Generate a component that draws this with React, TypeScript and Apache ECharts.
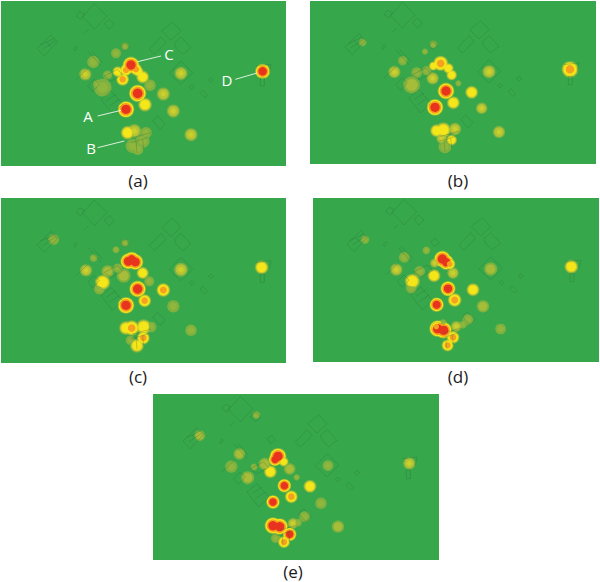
import React, { useEffect, useRef } from "react";
import * as echarts from "echarts";

// Blobs: [x, y, radius, heat level] in units of 1/3 px, local to each panel.
const blobsA = [
  [253,220,16,2],[277,183,16,1],[345,157,13,1],[372,136,10,1],[320,222,12,1],[305,260,23,1],[290,250,12,1],[447,253,15,1],
  [487,279,17,2],[517,330,17,2],[570,401,17,2],[540,217,17,2],
  [350,212,14,3],[412,212,14,3],[425,228,17,3],[365,235,17,4],[375,207,16,4],[405,205,16,4],[390,192,22,5],
  [375,325,22,5],[410,277,23,5],[432,311,18,3],[785,211,20,5],
  [380,395,18,3],[400,390,18,2],[435,395,15,1],[395,435,18,1],[425,420,18,1],[410,445,15,1],
];
const blobsB = [
  [375,319,22,5],[408,270,22,5],[430,305,17,3],[485,274,17,3],[515,322,15,2],[567,393,16,2],[537,212,17,2],[780,205,22,4],
  [253,213,16,2],[278,179,12,1],[370,130,10,1],[345,152,8,1],[158,124,10,1],[305,252,22,1.5],[368,232,16,2],[320,215,14,1],[350,209,12,1],[445,247,8,1],
  [392,187,20,4],[370,195,12,3],[415,202,14,3],[425,222,14,3],
  [380,389,17,3],[400,387,20,3],[435,384,16,2],[425,417,14,3],[405,437,17,1],[395,412,14,2],
];
const blobsC = [
  [375,322,22,5],[410,273,22,5],[431,308,17,4],[487,276,18,4],[517,325,16,1],[570,397,15,1],[540,215,18,2],[782,208,18,3],
  [255,217,16,2],[278,180,10,1],[345,155,9,1],[372,135,10,1],[158,125,14,1],[320,220,16,1.5],[305,253,20,3],[295,273,14,1],[368,233,18,1.5],[445,250,13,1],
  [382,190,21,5],[403,192,21,5],[392,184,20,5],[425,225,16,3],[350,210,12,1],
  [392,390,20,4],[375,390,18,3],[428,387,20,3],[450,387,14,1],[427,420,17,4],[408,443,18,3],[388,427,12,1],
];
const blobsD = [
  [371,320,19,5],[405,272,20,5],[425,306,18,4],[480,275,17,3],[510,325,16,1.5],[563,393,14,1],[533,213,17,1.5],[775,206,18,3],
  [250,215,16,2],[274,178,14,1],[340,157,10,1],[156,125,11,1],[298,250,20,3],[295,270,14,1],[363,233,17,3],[320,220,14,1],[420,225,15,2],[465,365,14,1],
  [388,183,22,5],[400,193,20,5],[410,198,15,4],[365,195,12,2],
  [374,392,22,5],[392,397,22,5],[370,386,14,4],[420,418,17,4],[404,442,16,4],[390,375,10,1],[430,385,14,2],[450,380,10,1],
];
const blobsE = [
  [360,324,18,5],[394,275,18,5],[415,308,17,4],[471,277,17,3],[504,328,15,1],[555,398,16,1.5],[525,215,14,1],[769,208,16,2],
  [284,251,17,1.5],[259,180,15,1.5],[235,218,16,1],[140,125,14,1.5],[310,63,10,1],[303,219,9,1],[431,250,8,1],[455,368,14,1],
  [410,225,15,1.5],[352,233,17,3],[335,210,16,1.5],[375,187,22,5],[366,197,17,5],[392,203,13,3],
  [360,395,22,5],[380,398,22,5],[410,421,18,5],[393,444,16,4],[368,433,12,1],[420,388,14,2],[435,386,10,1],
];

// Faint building outlines, same units.
const planOutlines = [
  [[280,8],[318,45],[280,85],[245,48],[280,8]],
  [[225,45],[235,32],[250,38],[240,55],[225,45]],
  [[310,68],[325,55],[340,70],[325,85],[310,68]],
  [[250,97],[262,85]],
  [[108,142],[150,102],[170,122],[130,165],[108,142]],
  [[118,132],[160,112]],[[125,145],[165,118]],[[135,122],[150,138]],
  [[218,145],[225,135],[230,140],[222,150],[218,145]],
  [[482,90],[515,63],[540,90],[510,118],[482,90]],
  [[445,145],[480,108],[495,125],[460,160],[445,145]],
  [[520,125],[540,108],[570,140],[545,160],[525,140],[520,125]],
  [[505,217],[540,180],[575,215],[540,250],[505,217]],
  [[565,258],[572,251],[580,258],[573,265],[565,258]],
  [[597,275],[605,267],[620,282],[612,290],[597,275]],
  [[622,237],[630,230],[638,237],[630,244],[622,237]],
  [[765,195],[810,190],[805,215]],
  [[778,230],[790,230],[790,255],[778,255],[778,230]],
  [[262,152],[300,195]],[[272,150],[305,185]],
  [[225,235],[262,200]],
  [[260,255],[280,235],[295,250],[275,272],[260,255]],
  [[300,295],[330,270],[365,310],[335,340],[300,295]],
  [[315,300],[345,280]],[[325,315],[355,295]],
  [[310,225],[350,205],[365,222],[330,240],[310,225]],
  [[455,360],[470,345],[492,368],[478,385],[455,360]],
  [[395,410],[450,395]],[[390,425],[440,410]],[[405,420],[408,455]],[[425,415],[428,445]],
  [[360,135],[375,125],[385,140],[370,150],[360,135]],
];

const captions = ["(a)", "(b)", "(c)", "(d)", "(e)"];
const pointLetters = ["A", "B", "C", "D"];

const PANEL_BLOBS = [blobsA, blobsB, blobsC, blobsD, blobsE];
const PANEL_RECTS = [
  { left: 1, top: 1, width: 285, height: 165, capX: 138, capY: 180, planX: 0, planY: 0 },
  { left: 310, top: 1, width: 286, height: 163, capX: 458, capY: 180, planX: -3, planY: -4 },
  { left: 1, top: 198, width: 285, height: 165, capX: 138, capY: 376, planX: 0, planY: -2 },
  { left: 313, top: 198, width: 286, height: 164, capX: 458, capY: 376, planX: -7, planY: -4 },
  { left: 153, top: 394, width: 286, height: 166, capX: 293, capY: 571, planX: -18, planY: -1 },
];
const LETTER_POS = [[88, 116], [91, 148], [169, 54], [227, 80]];
const LETTER_LINES = [
  [[290,345],[360,328]],
  [[290,440],[370,420]],
  [[410,182],[480,165]],
  [[703,235],[768,216]],
];

const OLIVE = "#7eb140";
const GROW = 1.15;
const STOPS: Record<number, [number, string][]> = {
  1: [[1, OLIVE], [0.6, "#8fb63d"]],
  1.5: [[1, OLIVE], [0.72, "#a5bd38"]],
  2: [[1, OLIVE], [0.78, "#b4c435"], [0.4, "#ccd02c"]],
  3: [[1, OLIVE], [0.85, "#c9ce2c"], [0.68, "#f4e619"]],
  4: [[1, OLIVE], [0.88, "#c9ce2c"], [0.76, "#f4e619"], [0.5, "#f5a01e"]],
  5: [[1, OLIVE], [0.9, "#f4e619"], [0.74, "#f5a01e"], [0.55, "#e8331f"]],
};

function blobItems(blobs: number[][]) {
  const items: any[] = [];
  for (let layer = 0; layer < 4; layer++) {
    blobs.forEach(([x, y, r, level]) => {
      const stop = STOPS[level][layer];
      if (!stop) return;
      items.push({
        value: [x, y],
        symbolSize: (2 * r * stop[0] * GROW) / 3,
        itemStyle: { color: stop[1], opacity: 1 },
      });
    });
  }
  return items;
}

export default function App() {
  const ref = useRef<HTMLDivElement>(null);
  useEffect(() => {
    const chart = echarts.init(ref.current!, undefined, { renderer: "svg" });
    const grid = PANEL_RECTS.map((p) => ({
      left: p.left, top: p.top, width: p.width, height: p.height,
      show: true, backgroundColor: "#36a84b", borderWidth: 0,
    }));
    const xAxis = PANEL_RECTS.map((p, i) => ({
      type: "value", gridIndex: i, min: 0, max: p.width * 3, show: false,
    }));
    const yAxis = PANEL_RECTS.map((p, i) => ({
      type: "value", gridIndex: i, min: 0, max: p.height * 3, inverse: true, show: false,
    }));
    const series: any[] = [];
    PANEL_RECTS.forEach((p, i) => {
      series.push({
        type: "scatter", xAxisIndex: i, yAxisIndex: i, silent: true,
        symbol: "circle", data: blobItems(PANEL_BLOBS[i]), z: 2,
      });
      series.push({
        type: "custom", xAxisIndex: i, yAxisIndex: i, silent: true, z: 3,
        data: planOutlines.map((_, k) => [k]),
        renderItem: (_: any, api: any) => ({
          type: "polyline",
          shape: {
            points: planOutlines[api.value(0)].map(([x, y]) =>
              api.coord([x + p.planX * 1, y + p.planY * 1])
            ),
          },
          style: { fill: "none", stroke: "rgba(45,100,55,0.38)", lineWidth: 0.7 },
        }),
      });
    });
    series.push({
      type: "custom", xAxisIndex: 0, yAxisIndex: 0, silent: true, z: 4,
      data: LETTER_LINES.map((_, k) => [k]),
      renderItem: (_: any, api: any) => ({
        type: "line",
        shape: (() => {
          const [a, b] = LETTER_LINES[api.value(0)];
          const pa = api.coord(a), pb = api.coord(b);
          return { x1: pa[0], y1: pa[1], x2: pb[0], y2: pb[1] };
        })(),
        style: { stroke: "#eef7ee", lineWidth: 0.9 },
      }),
    });
    const graphic: any[] = [
      ...captions.map((text, i) => ({
        type: "text", x: PANEL_RECTS[i].capX, y: PANEL_RECTS[i].capY, z: 10,
        style: {
          text, fill: "#1a1a1a", font: '17px "Open Sans"',
          align: "center", verticalAlign: "middle",
        },
      })),
      ...pointLetters.map((text, i) => ({
        type: "text", x: LETTER_POS[i][0], y: LETTER_POS[i][1], z: 10,
        style: {
          text, fill: "#ffffff", font: '15px "Open Sans"',
          align: "center", verticalAlign: "middle",
        },
      })),
    ];
    chart.setOption({ animation: false, grid, xAxis, yAxis, series, graphic });
    return () => chart.dispose();
  }, []);
  return (
    <div
      ref={ref}
      style={{ position: "fixed", left: 0, top: 0, width: 600, height: 582, background: "#fff" }}
    />
  );
}
